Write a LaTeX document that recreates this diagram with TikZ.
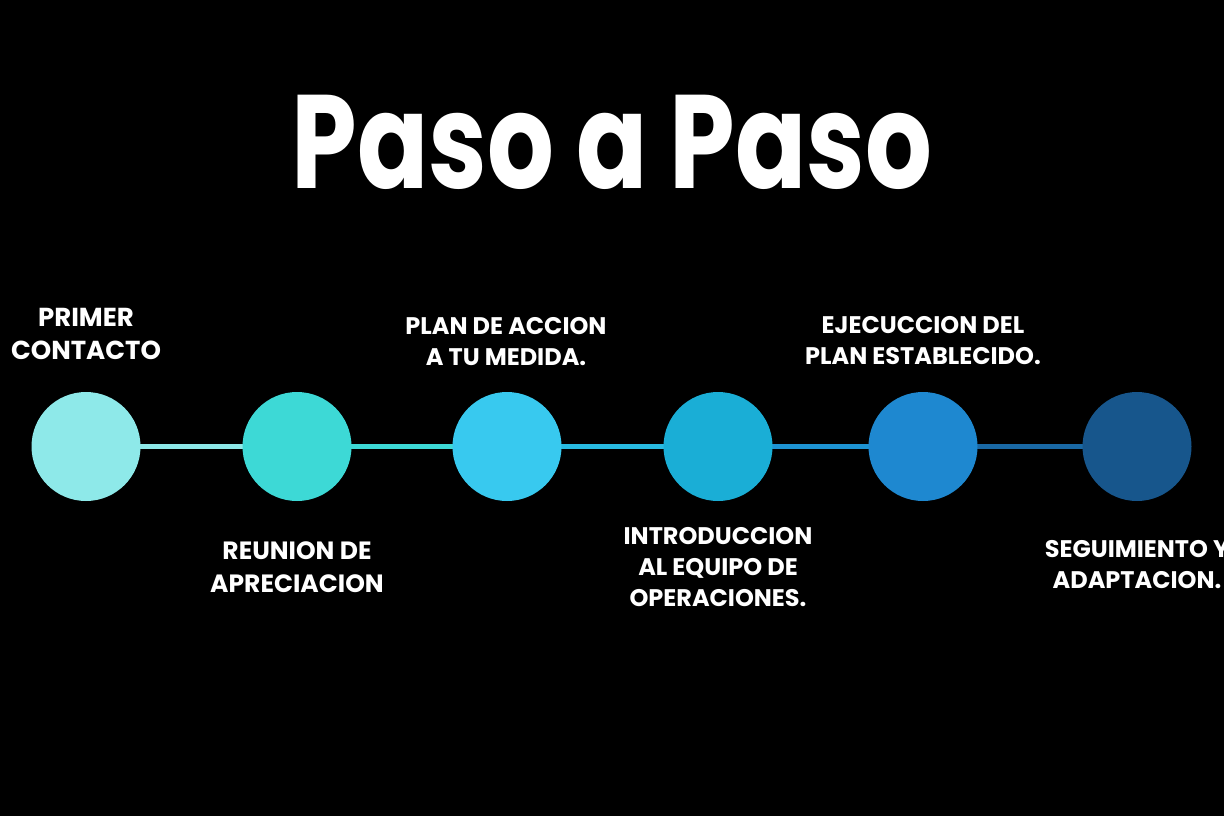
\documentclass[tikz,border=0pt]{standalone}
\usepackage{fontspec}
\setmainfont{Poppins}
\definecolor{cA}{HTML}{8EE9E9}
\definecolor{cB}{HTML}{3DD9D6}
\definecolor{cC}{HTML}{38C9EF}
\definecolor{cD}{HTML}{1AAED6}
\definecolor{cE}{HTML}{1E88D0}
\definecolor{cF}{HTML}{17568C}
\begin{document}
\begin{tikzpicture}[x=1pt,y=-1pt,
  dot/.style={circle,minimum size=109pt,inner sep=0pt,draw=none},
  link/.style={line width=5pt},
  lbl/.style={text=white,align=center,inner sep=0pt,anchor=base,
    font=\fontsize{24}{31}\selectfont\bfseries}]
\fill[black] (0,0) rectangle (1224,816);
\useasboundingbox (0,0) rectangle (1224,816);
\node[text=white,anchor=base,inner sep=0pt,font=\fontsize{133}{140}\selectfont\bfseries] (title) at (612,188) {\scalebox{0.79}[1]{Paso a Paso}};
\node[dot] (n1) at (86,446.5) {};
\node[dot] (n2) at (297,446.5) {};
\node[dot] (n3) at (507,446.5) {};
\node[dot] (n4) at (718,446.5) {};
\node[dot] (n5) at (923,446.5) {};
\node[dot] (n6) at (1137,446.5) {};
\draw[link,cA] (n1.center) -- (n2.center);
\draw[link,cB] (n2.center) -- (n3.center);
\draw[link,cC!45!cD] (n3.center) -- (n4.center);
\draw[link,cD!30!cE] (n4.center) -- (n5.center);
\draw[link,cE!35!cF] (n5.center) -- (n6.center);
\fill[cA] (n1) circle (54.5);
\fill[cB] (n2) circle (54.5);
\fill[cC] (n3) circle (54.5);
\fill[cD] (n4) circle (54.5);
\fill[cE] (n5) circle (54.5);
\fill[cF] (n6) circle (54.5);
\node[lbl,font=\fontsize{26}{33}\selectfont\bfseries] (l1) at (86,359) {PRIMER\\CONTACTO};
\node[lbl,font=\fontsize{25}{33}\selectfont\bfseries] (l2) at (297,592) {REUNION DE\\APRECIACION};
\node[lbl] (l3) at (506,365) {PLAN DE ACCION\\A TU MEDIDA.};
\node[lbl] (l4) at (718,606) {INTRODUCCION\\AL EQUIPO DE\\OPERACIONES.};
\node[lbl] (l5) at (923,364) {EJECUCCION DEL\\PLAN ESTABLECIDO.};
\node[lbl] (l6) at (1137,588) {SEGUIMIENTO Y\\ADAPTACION.};
\end{tikzpicture}
\end{document}
